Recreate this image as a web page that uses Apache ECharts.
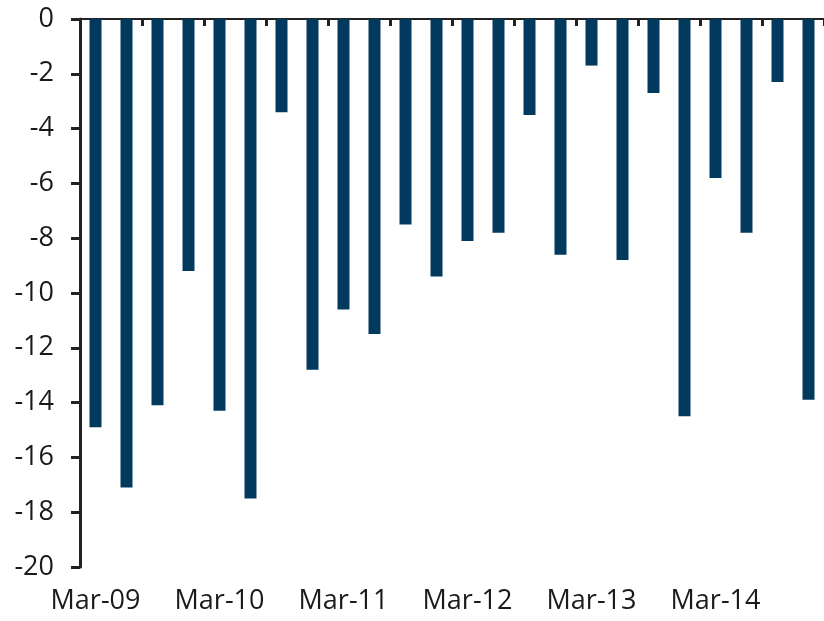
<!DOCTYPE html>
<html>
<head>
<meta charset="utf-8">
<script src="https://cdn.jsdelivr.net/npm/echarts@6/dist/echarts.min.js"></script>
<style>
html,body{margin:0;padding:0;background:#fff;}
#chart{width:824px;height:621px;}
</style>
</head>
<body>
<div id="chart"></div>
<script>
const categories = [
  'Mar-09','Jun-09','Sep-09','Dec-09',
  'Mar-10','Jun-10','Sep-10','Dec-10',
  'Mar-11','Jun-11','Sep-11','Dec-11',
  'Mar-12','Jun-12','Sep-12','Dec-12',
  'Mar-13','Jun-13','Sep-13','Dec-13',
  'Mar-14','Jun-14','Sep-14','Dec-14'
];
const values = [
  -14.9, -17.1, -14.1, -9.2,
  -14.3, -17.5, -3.4, -12.8,
  -10.6, -11.5, -7.5, -9.4,
  -8.1, -7.8, -3.5, -8.6,
  -1.7, -8.8, -2.7, -14.5,
  -5.8, -7.8, -2.3, -13.9
];
const yMin = -20, yMax = 0, yStep = 2;

const chart = echarts.init(document.getElementById('chart'));
const textColor = '#1a1a1a';
const fontFamily = '"Open Sans", "Noto Sans", sans-serif';
chart.setOption({
  animation: false,
  grid: { left: 80, right: -3, top: 19, bottom: 54, containLabel: false },
  xAxis: [
    {
      type: 'category',
      data: categories,
      position: 'bottom',
      axisLine: { show: true, onZero: true, lineStyle: { color: '#222', width: 2 } },
      axisTick: { show: true, length: 7, inside: false, lineStyle: { color: '#222', width: 3 } },
      axisLabel: { show: false },
      splitLine: { show: false }
    },
    {
      type: 'category',
      data: categories,
      position: 'bottom',
      axisLine: { show: false, onZero: false },
      axisTick: { show: false },
      axisLabel: {
        show: true, interval: 3, margin: 21,
        color: textColor, fontSize: 27, fontFamily: fontFamily
      },
      splitLine: { show: false }
    }
  ],
  yAxis: {
    type: 'value',
    min: yMin, max: yMax, interval: yStep,
    axisLine: { show: true, lineStyle: { color: '#222', width: 3 } },
    axisTick: { show: true, length: 9, lineStyle: { color: '#222', width: 3 } },
    axisLabel: { color: textColor, fontSize: 27, fontFamily: fontFamily, margin: 26 },
    splitLine: { show: false }
  },
  series: [{
    type: 'bar',
    data: values,
    barWidth: 12,
    itemStyle: { color: '#023a5e' },
    xAxisIndex: 0
  }]
});
</script>
</body>
</html>
